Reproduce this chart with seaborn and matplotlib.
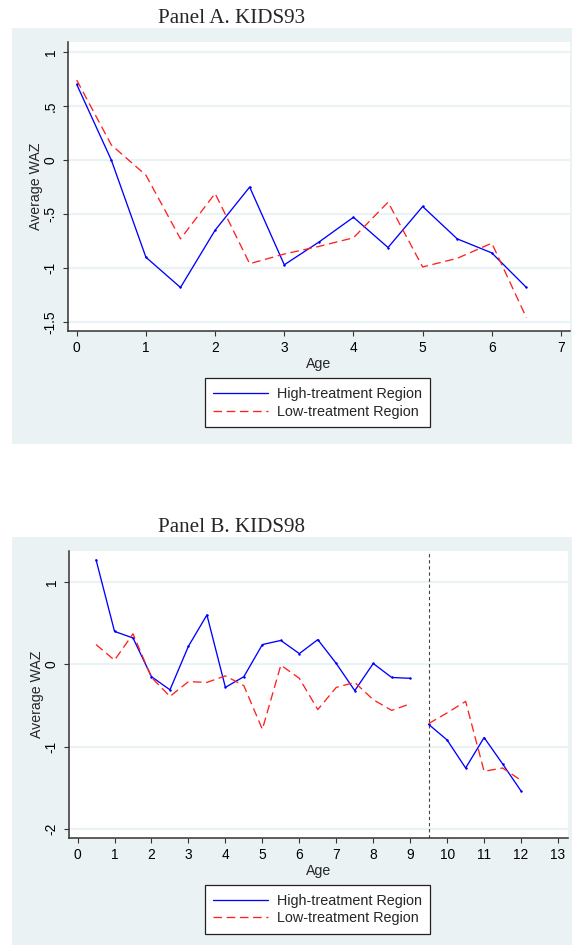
import numpy as np
import pandas as pd
import matplotlib
matplotlib.use('Agg')
import matplotlib.pyplot as plt
from matplotlib.patches import Rectangle
import seaborn as sns

# ------------------------------------------------------------
# Values (average weight-for-age z score)
# ------------------------------------------------------------
ages_a = [0, 0.5, 1, 1.5, 2, 2.5, 3, 3.5, 4, 4.5, 5, 5.5, 6, 6.5]
high_a = [0.70, 0.00, -0.90, -1.18, -0.65, -0.25, -0.97, -0.76, -0.53, -0.81, -0.43, -0.73, -0.86, -1.18]
low_a = [0.74, 0.14, -0.14, -0.73, -0.31, -0.96, -0.87, -0.80, -0.72, -0.39, -0.99, -0.91, -0.77, -1.46]

ages_b = [0.5, 1, 1.5, 2, 2.5, 3, 3.5, 4, 4.5, 5, 5.5, 6, 6.5, 7, 7.5, 8, 8.5, 9,
          9.5, 10, 10.5, 11, 11.5, 12]
high_b = [1.27, 0.40, 0.32, -0.15, -0.31, 0.22, 0.60, -0.28, -0.15, 0.24, 0.29, 0.13, 0.30, 0.01,
          -0.32, 0.01, -0.16, -0.17, -0.73, -0.92, -1.26, -0.89, -1.21, -1.54]
low_b = [0.24, 0.05, 0.37, -0.16, -0.39, -0.21, -0.22, -0.14, -0.26, -0.79, -0.01, -0.17, -0.55, -0.28,
         -0.22, -0.43, -0.56, -0.48, -0.72, -0.59, -0.45, -1.30, -1.26, -1.41]
cutoff_b = 9.5  # dashed line, series break here

xticks_a = list(range(0, 8))
yticks_a = [1, 0.5, 0, -0.5, -1, -1.5]
ytick_labels_a = ['1', '.5', '0', '-.5', '-1', '-1.5']
xticks_b = list(range(0, 14))
yticks_b = [1, 0, -1, -2]
ytick_labels_b = ['1', '0', '-1', '-2']

regions = ['High-treatment Region', 'Low-treatment Region']
titles = ['Panel A. KIDS93', 'Panel B. KIDS98']

# ------------------------------------------------------------
# Style
# ------------------------------------------------------------
sns.set_style('white')
plt.rcParams['font.family'] = ['Liberation Sans', 'DejaVu Sans']

W, H = 572, 947
BG = '#EAF2F3'
AX_COL = '#333333'
palette = {regions[0]: '#0000FF', regions[1]: '#FF2020'}
dashes = {regions[0]: '', regions[1]: (6.5, 3.5)}


def to_long(ages, high, low, cutoff=None):
    ages = np.asarray(ages, dtype=float)
    if cutoff is None:
        seg = np.zeros(len(ages), dtype=int)
    else:
        seg = (ages >= cutoff).astype(int)
    parts = []
    for lab, vals in zip(regions, [high, low]):
        parts.append(pd.DataFrame({'age': ages, 'waz': vals, 'region': lab, 'seg': seg}))
    return pd.concat(parts, ignore_index=True)


def px_box(l, t, r, b):
    return [l / W, 1 - b / H, (r - l) / W, (b - t) / H]


def draw_panel(fig, df, title, rect, bg_rect, title_y, legend_top, xticks, yticks,
               ytick_labels, xlim, ylim, vline=None):
    # light bluish-gray graph region behind everything
    l, t, r, b = bg_rect
    fig.add_artist(Rectangle((l / W, 1 - b / H), (r - l) / W, (b - t) / H,
                             transform=fig.transFigure, facecolor=BG, edgecolor='none', zorder=0))

    ax = fig.add_axes(px_box(*rect))
    ax.set_facecolor('white')
    sns.lineplot(data=df, x='age', y='waz', hue='region', style='region', units='seg',
                 estimator=None, palette=palette, dashes=dashes, lw=0.95, ax=ax)
    handles, labels = ax.get_legend_handles_labels()
    ax.get_legend().remove()

    # tiny vertex dots on the solid series (data lines only, not legend proxies)
    for ln in ax.lines:
        if ln.get_linestyle() == '-' and len(ln.get_xdata()) > 0 and ln not in handles:
            ln.set_marker('o')
            ln.set_markersize(1.3)
            ln.set_markeredgecolor(ln.get_color())
            ln.set_markerfacecolor(ln.get_color())
            ln.set_markeredgewidth(0.4)

    if vline is not None:
        ax.axvline(vline, color='#444444', lw=0.8, ls=(0, (3, 2.5)), zorder=1)

    ax.set_xlim(*xlim)
    ax.set_ylim(*ylim)
    ax.set_xticks(xticks)
    ax.set_xticklabels([str(v) for v in xticks])
    ax.set_yticks(yticks)
    ax.set_yticklabels(ytick_labels, rotation=90, va='center')
    ax.yaxis.grid(True, color=BG, lw=1.6)
    ax.xaxis.grid(False)
    ax.set_axisbelow(True)

    for side in ['top', 'right']:
        ax.spines[side].set_visible(False)
    for side in ['left', 'bottom']:
        ax.spines[side].set_color(AX_COL)
        ax.spines[side].set_linewidth(1.1)
    ax.tick_params(axis='both', direction='out', length=3.8, width=0.8, color=AX_COL,
                   labelsize=9.9, pad=3.5, labelcolor='black')
    ax.tick_params(axis='x', bottom=True)
    ax.tick_params(axis='y', left=True)

    ax.set_xlabel('Age', fontsize=10.2)
    ax.set_ylabel('Average WAZ', fontsize=10.2)
    ax_h = rect[3] - rect[1]
    ax_w = rect[2] - rect[0]
    ax.xaxis.set_label_coords(0.5, -(26 / ax_h))
    ax.yaxis.set_label_coords(-(25 / ax_w), 0.5)

    fig.text(232 / W, 1 - title_y / H, title, ha='center', va='baseline', fontsize=15.2,
             family=['Liberation Serif', 'DejaVu Serif'])

    leg = fig.legend(handles, labels, loc='upper left',
                     bbox_to_anchor=(204.5 / W, 1 - legend_top / H),
                     frameon=True, fancybox=False, framealpha=1, edgecolor='#222222',
                     fontsize=10.4, handlelength=3.8, handletextpad=0.6,
                     borderpad=0.6, labelspacing=0.25, borderaxespad=0)
    leg.get_frame().set_linewidth(0.9)
    return ax


fig = plt.figure(figsize=(W / 100, H / 100), dpi=100)

df_a = to_long(ages_a, high_a, low_a)
draw_panel(fig, df_a, titles[0], rect=(68, 42.3, 570, 331), bg_rect=(12, 28.3, 572, 444.3),
           title_y=23.3, legend_top=378.3, xticks=xticks_a, yticks=yticks_a,
           ytick_labels=ytick_labels_a, xlim=(-0.126, 7.13), ylim=(-1.583, 1.09))

df_b = to_long(ages_b, high_b, low_b, cutoff=cutoff_b)
draw_panel(fig, df_b, titles[1], rect=(68.7, 551, 568, 837.7), bg_rect=(12, 537, 572, 945),
           title_y=532.3, legend_top=885, xticks=xticks_b, yticks=yticks_b,
           ytick_labels=ytick_labels_b, xlim=(-0.24, 13.27), ylim=(-2.107, 1.377),
           vline=cutoff_b)

fig.savefig('out.png', dpi=100)
plt.close(fig)
